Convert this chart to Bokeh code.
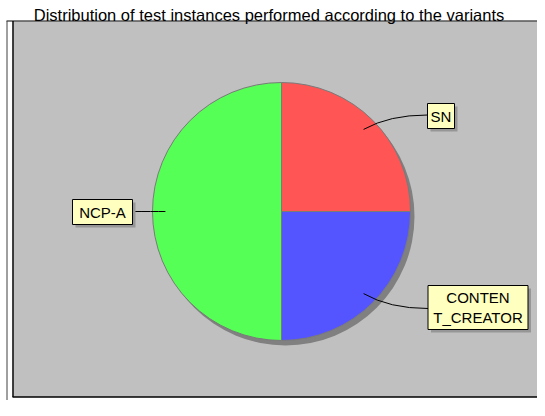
import numpy as np
from bokeh.plotting import figure
from bokeh.models import Range1d, ColumnDataSource
from bokeh.core.properties import value
from bokeh.embed import file_html
from bokeh.resources import INLINE

# ---- data ----
title_text = "Distribution of test instances performed according to the variants"
categories = ["SN", "CONTENT_CREATOR", "NCP-A"]
label_texts = ["SN", "CONTEN\nT_CREATOR", "NCP-A"]
shares = [25, 25, 50]
colors = ["#FF5555", "#5555FF", "#55FF55"]

# ---- layout (picture pixel coordinates, y measured from the top) ----
W, H = 537, 400
TOP = 416


def Y(py):
    return TOP - py


FONT = value("Liberation Sans")

p = figure(width=W, height=H,
           x_range=Range1d(0, W), y_range=Range1d(TOP - H, TOP),
           output_backend="svg", toolbar_location=None,
           x_axis_location=None, y_axis_location=None,
           min_border=0, border_fill_color="white", background_fill_color="white")
p.grid.visible = False
p.outline_line_color = None

# panel frame
right = W + 2
frame_top = 20.5
frame_bottom = 396.5
p.quad(left=13, right=right, top=Y(frame_top + 0.5), bottom=Y(frame_bottom),
       fill_color="#C0C0C0", line_color=None)
p.segment(x0=[6, 6.5, 12.5, 12], y0=[Y(frame_top), Y(frame_top), Y(frame_top), Y(frame_bottom)],
          x1=[right, 6.5, 12.5, right], y1=[Y(frame_top), Y(TOP), Y(frame_bottom), Y(frame_bottom)],
          line_color=["black", "#404040", "black", "black"], line_width=[1, 1, 1.5, 1.5])

# title
p.text(x=[W / 2], y=[Y(14)], text=[title_text],
       text_font=FONT, text_font_size="16.5px", text_align="center",
       text_baseline="alphabetic", text_color="black")

# pie
cx, cy, R = 281, Y(211), 129
fr = np.array(shares, dtype=float) / sum(shares)
cum = np.concatenate([[0], np.cumsum(fr)])
start = np.pi / 2 - cum[:-1] * 2 * np.pi
end = np.pi / 2 - cum[1:] * 2 * np.pi
mid = (start + end) / 2

p.circle(x=[cx + 4], y=[cy - 5], radius=R, fill_color="#808080", line_color=None)
src = ColumnDataSource(dict(start=start, end=end, color=colors, cat=categories))
p.wedge(x=cx, y=cy, radius=R, start_angle="start", end_angle="end", direction="clock",
        fill_color="color", line_color="#7A7A7A", line_width=1, source=src)

# labels
box_cx = [440.5, 477.5, 102]
box_cy = [115.5, 307, 211.5]
box_w = [27, 100, 60]
box_h = [25, 44, 25]
end_y = [114.5, 308, 211]

ax = cx + 0.9 * R * np.cos(mid)
ay = cy + 0.9 * R * np.sin(mid)
ex = [bx - bw / 2 if np.cos(m) > 0.01 else (bx + bw / 2 if np.cos(m) < -0.01 else bx)
      for bx, bw, m in zip(box_cx, box_w, mid)]
ey = [Y(v) for v in end_y]
ctrl_x = [a + 0.4 * (e - a) for a, e in zip(ax, ex)]
p.quadratic(x0=ax, y0=ay, x1=ex, y1=ey, cx=ctrl_x, cy=ey, line_color="black", line_width=1)

L = [c - w / 2 for c, w in zip(box_cx, box_w)]
Rr = [c + w / 2 for c, w in zip(box_cx, box_w)]
T = [Y(c - h / 2) for c, h in zip(box_cy, box_h)]
B = [Y(c + h / 2) for c, h in zip(box_cy, box_h)]
p.quad(left=[v + 3 for v in L], right=[v + 3 for v in Rr], top=[v - 3 for v in T],
       bottom=[v - 3 for v in B], fill_color="#969696", line_color=None)
p.quad(left=L, right=Rr, top=T, bottom=B, fill_color="#FFFFC0", line_color="black", line_width=1)
p.text(x=box_cx, y=[Y(v) for v in box_cy], text=label_texts, text_font=FONT,
       text_font_size="15px", text_align="center", text_baseline="middle",
       text_color="black", text_line_height=1.15)

open("out.html", "w").write(file_html(p, INLINE))
